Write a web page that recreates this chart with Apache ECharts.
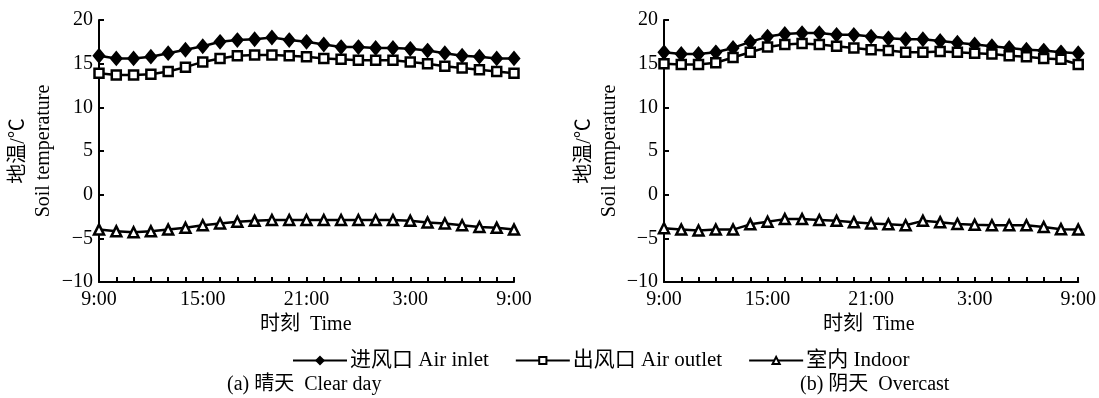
<!DOCTYPE html>
<html>
<head>
<meta charset="utf-8">
<script src="https://cdn.jsdelivr.net/npm/echarts@6/dist/echarts.min.js"></script>
<style>html,body{margin:0;padding:0;background:#fff}#c{width:1099px;height:398px}</style>
</head>
<body>
<div id="c"></div>
<script>
var hours = ['9:00','10:00','11:00','12:00','13:00','14:00','15:00','16:00','17:00','18:00','19:00','20:00','21:00','22:00','23:00','0:00','1:00','2:00','3:00','4:00','5:00','6:00','7:00','8:00','9:00'];
var yTicks = [-10, -5, 0, 5, 10, 15, 20];
var seriesNames = ['进风口 Air inlet', '出风口 Air outlet', '室内 Indoor'];
// (a) Clear day
var clearInlet  = [15.9,15.6,15.6,15.8,16.2,16.6,17.0,17.5,17.7,17.8,18.0,17.7,17.5,17.2,16.9,16.9,16.8,16.8,16.7,16.5,16.2,15.9,15.8,15.6,15.6];
var clearOutlet = [13.9,13.7,13.7,13.8,14.1,14.6,15.2,15.6,15.9,16.0,16.0,15.9,15.8,15.6,15.5,15.4,15.4,15.4,15.2,15.0,14.7,14.5,14.3,14.1,13.9];
var clearIndoor = [-4.0,-4.2,-4.3,-4.2,-4.0,-3.8,-3.5,-3.3,-3.1,-3.0,-2.9,-2.9,-2.9,-2.9,-2.9,-2.9,-2.9,-2.9,-3.0,-3.2,-3.3,-3.5,-3.7,-3.8,-4.0];
// (b) Overcast
var overInlet  = [16.3,16.1,16.1,16.3,16.8,17.5,18.1,18.4,18.5,18.5,18.3,18.3,18.1,17.9,17.8,17.8,17.6,17.4,17.2,17.0,16.8,16.6,16.5,16.3,16.2];
var overOutlet = [15.0,14.9,14.9,15.1,15.7,16.3,16.9,17.2,17.3,17.2,17.0,16.8,16.6,16.5,16.3,16.3,16.4,16.3,16.2,16.1,15.9,15.8,15.6,15.5,14.9];
var overIndoor = [-3.85,-4.0,-4.1,-4.0,-4.0,-3.4,-3.1,-2.8,-2.8,-2.9,-3.0,-3.15,-3.3,-3.4,-3.5,-3.0,-3.15,-3.35,-3.45,-3.5,-3.5,-3.5,-3.7,-3.95,-4.0];

var FONT = "'Liberation Serif', 'Noto Sans CJK SC', serif";
var chart = echarts.init(document.getElementById('c'), null, {renderer: 'canvas'});

function xAxisCfg(gi) {
  return {
    type: 'category', gridIndex: gi, data: hours, boundaryGap: false,
    axisLine: {onZero: false, lineStyle: {color: '#000', width: 2}},
    axisTick: {inside: true, length: 5, interval: 0, lineStyle: {color: '#000', width: 2}},
    axisLabel: {interval: 5, color: '#000', fontSize: 20, fontFamily: FONT, margin: 8},
    splitLine: {show: false}
  };
}
function yAxisCfg(gi, gap) {
  return {
    type: 'value', gridIndex: gi, min: yTicks[0], max: yTicks[yTicks.length - 1], interval: 5,
    name: '地温/℃\nSoil temperature', nameLocation: 'middle', nameRotate: 90, nameGap: gap,
    nameTextStyle: {color: '#000', fontSize: 20, fontFamily: FONT, lineHeight: 25},
    axisLine: {show: true, onZero: false, lineStyle: {color: '#000', width: 2}},
    axisTick: {show: true, inside: true, length: 5, lineStyle: {color: '#000', width: 2}},
    axisLabel: {color: '#000', fontSize: 20, fontFamily: FONT, margin: 6,
      formatter: function (v) { return String(v).replace('-', '\u2212'); }},
    splitLine: {show: false}
  };
}
var symbols = ['diamond', 'rect', 'triangle'];
var sizes = [[10, 12], 9, 10];
var fills = ['#000', '#fff', '#fff'];
function mk(name, idx, gi, data) {
  return {
    name: name, type: 'line', xAxisIndex: gi, yAxisIndex: gi, data: data,
    symbol: symbols[idx], symbolSize: sizes[idx], showAllSymbol: true,
    lineStyle: {color: '#000', width: 2.5},
    itemStyle: {color: fills[idx], borderColor: '#000', borderWidth: 2.5},
    animation: false
  };
}

chart.setOption({
  backgroundColor: '#fff',
  animation: false,
  grid: [
    {left: 99, right: 585, top: 20, bottom: 116},
    {left: 664, right: 17, top: 20, bottom: 116}
  ],
  xAxis: [xAxisCfg(0), xAxisCfg(1)],
  yAxis: [yAxisCfg(0, 43), yAxisCfg(1, 42)],
  legend: {
    data: seriesNames, left: 287, top: 345, itemWidth: 54, itemHeight: 9, itemGap: 26,
    textStyle: {color: '#000', fontSize: 21, fontFamily: FONT, padding: [0, 0, 0, -2]}
  },
  graphic: [
    {type: 'text', left: 260, top: 315, style: {text: '时刻  Time', fill: '#000', font: '20px ' + FONT}},
    {type: 'text', left: 823, top: 315, style: {text: '时刻  Time', fill: '#000', font: '20px ' + FONT}},
    {type: 'text', left: 227, top: 375, style: {text: '(a) 晴天  Clear day', fill: '#000', font: '20px ' + FONT}},
    {type: 'text', left: 800, top: 375, style: {text: '(b) 阴天  Overcast', fill: '#000', font: '20px ' + FONT}}
  ],
  series: [
    mk(seriesNames[0], 0, 0, clearInlet),
    mk(seriesNames[1], 1, 0, clearOutlet),
    mk(seriesNames[2], 2, 0, clearIndoor),
    mk(seriesNames[0], 0, 1, overInlet),
    mk(seriesNames[1], 1, 1, overOutlet),
    mk(seriesNames[2], 2, 1, overIndoor)
  ]
});
</script>
</body>
</html>
